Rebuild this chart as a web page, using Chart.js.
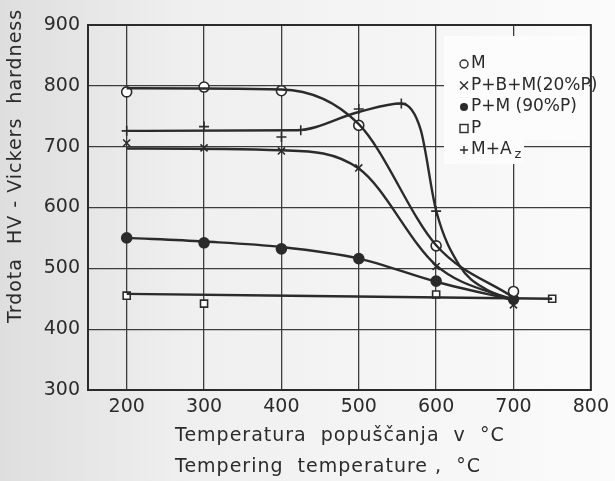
<!DOCTYPE html>
<html lang="sl">
<head>
  <meta charset="UTF-8">
  <title>Trdota HV - popuščanje</title>
  <script src="https://cdn.jsdelivr.net/npm/chart.js"></script>
  <style>
    html, body { margin: 0; padding: 0; }
    body { width: 615px; height: 481px; background: linear-gradient(90deg, #dedede 0%, #efefef 30%, #fbfbfb 100%); }
    #wrap { position: relative; width: 615px; height: 481px; }
  </style>
</head>
<body>
  <div id="wrap"><canvas id="grafico" width="615" height="481"></canvas></div>

  <script>
    // podatki (odčitani s slike)
    const temps = [200, 300, 400, 500, 600, 700];
    const hvM   = [790, 798, 792, 735, 537, 462];
    const hvPBM = [706, 698, 693, 665, 503, 440];
    const hvPM  = [550, 542, 532, 516, 479, 449];
    const tempsP = [200, 300, 600, 750];
    const hvP    = [455, 442, 457, 450];
    const tempsMA = [200, 300, 400, 425, 500, 555, 600];
    const hvMA    = [726, 733, 716, 727, 762, 771, 594];

    // poteki krivulj (izravnane črte)
    const curveMx   = [200, 400, 500, 600, 700];
    const curveMy   = [796, 794, 737, 538, 452];
    const curvePBMx = [200, 400, 500, 600, 700];
    const curvePBMy = [697, 694, 664, 505, 446];
    const curvePMx  = [200, 300, 400, 500, 600, 700];
    const curvePMy  = [550, 544, 535, 516, 478, 448];
    const curvePx   = [200, 750];
    const curvePy   = [458, 450];
    const curveMAx  = [200, 420, 500, 555, 580, 600, 630, 665, 700];
    const curveMAy  = [726, 727, 757, 771, 728, 595, 505, 465, 449];

    const xTicks = [200, 300, 400, 500, 600, 700, 800];
    const yTicks = [300, 400, 500, 600, 700, 800, 900];

    const legendRows = ['M', 'P+B+M(20%P)', 'P+M (90%P)', 'P', 'M+A'];
    const legendMarks = ['circle', 'crossRot', 'dot', 'rect', 'cross'];

    const ink = '#2b2b2b';
    const fontFam = '"DejaVu Sans", sans-serif';

    const pts = (xs, ys) => xs.map((x, i) => ({ x: x, y: ys[i] }));

    function curve(xs, ys) {
      return {
        data: pts(xs, ys), showLine: true, borderColor: ink, borderWidth: 2.4,
        pointRadius: 0, cubicInterpolationMode: 'monotone', fill: false
      };
    }
    function markers(xs, ys, style, fillColor) {
      return {
        data: pts(xs, ys), showLine: false, pointStyle: style, pointRadius: 5,
        pointBorderColor: ink, pointBorderWidth: 1.6, pointBackgroundColor: fillColor
      };
    }

    function drawMark(ctx, style, x, y) {
      ctx.save();
      ctx.strokeStyle = ink; ctx.fillStyle = ink; ctx.lineWidth = 1.4;
      const r = 4;
      ctx.beginPath();
      if (style === 'circle') { ctx.arc(x, y, r, 0, Math.PI * 2); ctx.stroke(); }
      else if (style === 'dot') { ctx.arc(x, y, r, 0, Math.PI * 2); ctx.fill(); }
      else if (style === 'rect') { ctx.strokeRect(x - r, y - r, 2 * r, 2 * r); }
      else if (style === 'crossRot') { ctx.moveTo(x - r, y - r); ctx.lineTo(x + r, y + r); ctx.moveTo(x + r, y - r); ctx.lineTo(x - r, y + r); ctx.stroke(); }
      else if (style === 'cross') { ctx.moveTo(x - r, y); ctx.lineTo(x + r, y); ctx.moveTo(x, y - r); ctx.lineTo(x, y + r); ctx.stroke(); }
      ctx.restore();
    }

    // okvir, legenda in naslovi osi
    const okvir = {
      id: 'okvir',
      beforeDatasetsDraw(chart) {
        const ctx = chart.ctx, a = chart.chartArea;
        ctx.save();
        // bela podlaga legende
        ctx.fillStyle = '#fcfcfc';
        ctx.fillRect(444, 36, a.right - 446, 104);
        ctx.fillRect(444, 140, 80, 24);
        ctx.restore();
      },
      afterDraw(chart) {
        const ctx = chart.ctx, a = chart.chartArea;
        ctx.save();
        ctx.strokeStyle = ink; ctx.lineWidth = 2;
        ctx.strokeRect(a.left, a.top, a.right - a.left, a.bottom - a.top);

        ctx.fillStyle = ink;
        ctx.font = '17px ' + fontFam;
        ctx.textBaseline = 'middle';
        ctx.textAlign = 'left';
        legendRows.forEach((t, i) => {
          const y = 64 + i * 21.5;
          drawMark(ctx, legendMarks[i], 464, y);
          ctx.fillText(t, 471, y);
          if (i === 4) {
            const w = ctx.measureText(t).width;
            ctx.font = '13px ' + fontFam;
            ctx.fillText('z', 474 + w, y + 5);
            ctx.font = '17px ' + fontFam;
          }
        });

        ctx.font = '19px ' + fontFam;
        ctx.letterSpacing = '1px';
        ctx.fillText('Temperatura  popuščanja  v  °C', 175, 436);
        ctx.fillText('Tempering  temperature ,  °C', 175, 467);

        ctx.translate(16, 166);
        ctx.rotate(-Math.PI / 2);
        ctx.textAlign = 'center';
        ctx.fillText('Trdota  HV - Vickers  hardness', 0, 0);
        ctx.restore();
      }
    };

    new Chart(document.getElementById('grafico'), {
      type: 'scatter',
      data: {
        datasets: [
          curve(curveMx, curveMy),
          curve(curvePBMx, curvePBMy),
          curve(curvePMx, curvePMy),
          curve(curvePx, curvePy),
          curve(curveMAx, curveMAy),
          markers(temps, hvM, 'circle', '#ffffff'),
          markers(temps, hvPBM, 'crossRot', ink),
          markers(temps, hvPM, 'circle', ink),
          markers(tempsP, hvP, 'rect', '#ffffff'),
          markers(tempsMA, hvMA, 'cross', ink)
        ]
      },
      options: {
        responsive: false,
        animation: false,
        layout: { padding: { top: 25, right: 19, left: 0, bottom: 0 } },
        plugins: { legend: { display: false }, tooltip: { enabled: false } },
        scales: {
          x: {
            type: 'linear', min: 150, max: 800,
            afterBuildTicks: s => { s.ticks = xTicks.map(v => ({ value: v })); },
            afterFit: s => { s.height = 91; },
            grid: { color: '#3c3c3c', lineWidth: 1.3, drawTicks: false },
            border: { display: false },
            ticks: { color: ink, padding: 6, font: { family: fontFam, size: 19 }, maxRotation: 0 }
          },
          y: {
            type: 'linear', min: 300, max: 900,
            afterBuildTicks: s => { s.ticks = yTicks.map(v => ({ value: v })); },
            afterFit: s => { s.width = 88; },
            grid: { color: '#3c3c3c', lineWidth: 1.3, drawTicks: false },
            border: { display: false },
            ticks: { color: ink, padding: 8, font: { family: fontFam, size: 19 } }
          }
        }
      },
      plugins: [okvir]
    });
  </script>
</body>
</html>
